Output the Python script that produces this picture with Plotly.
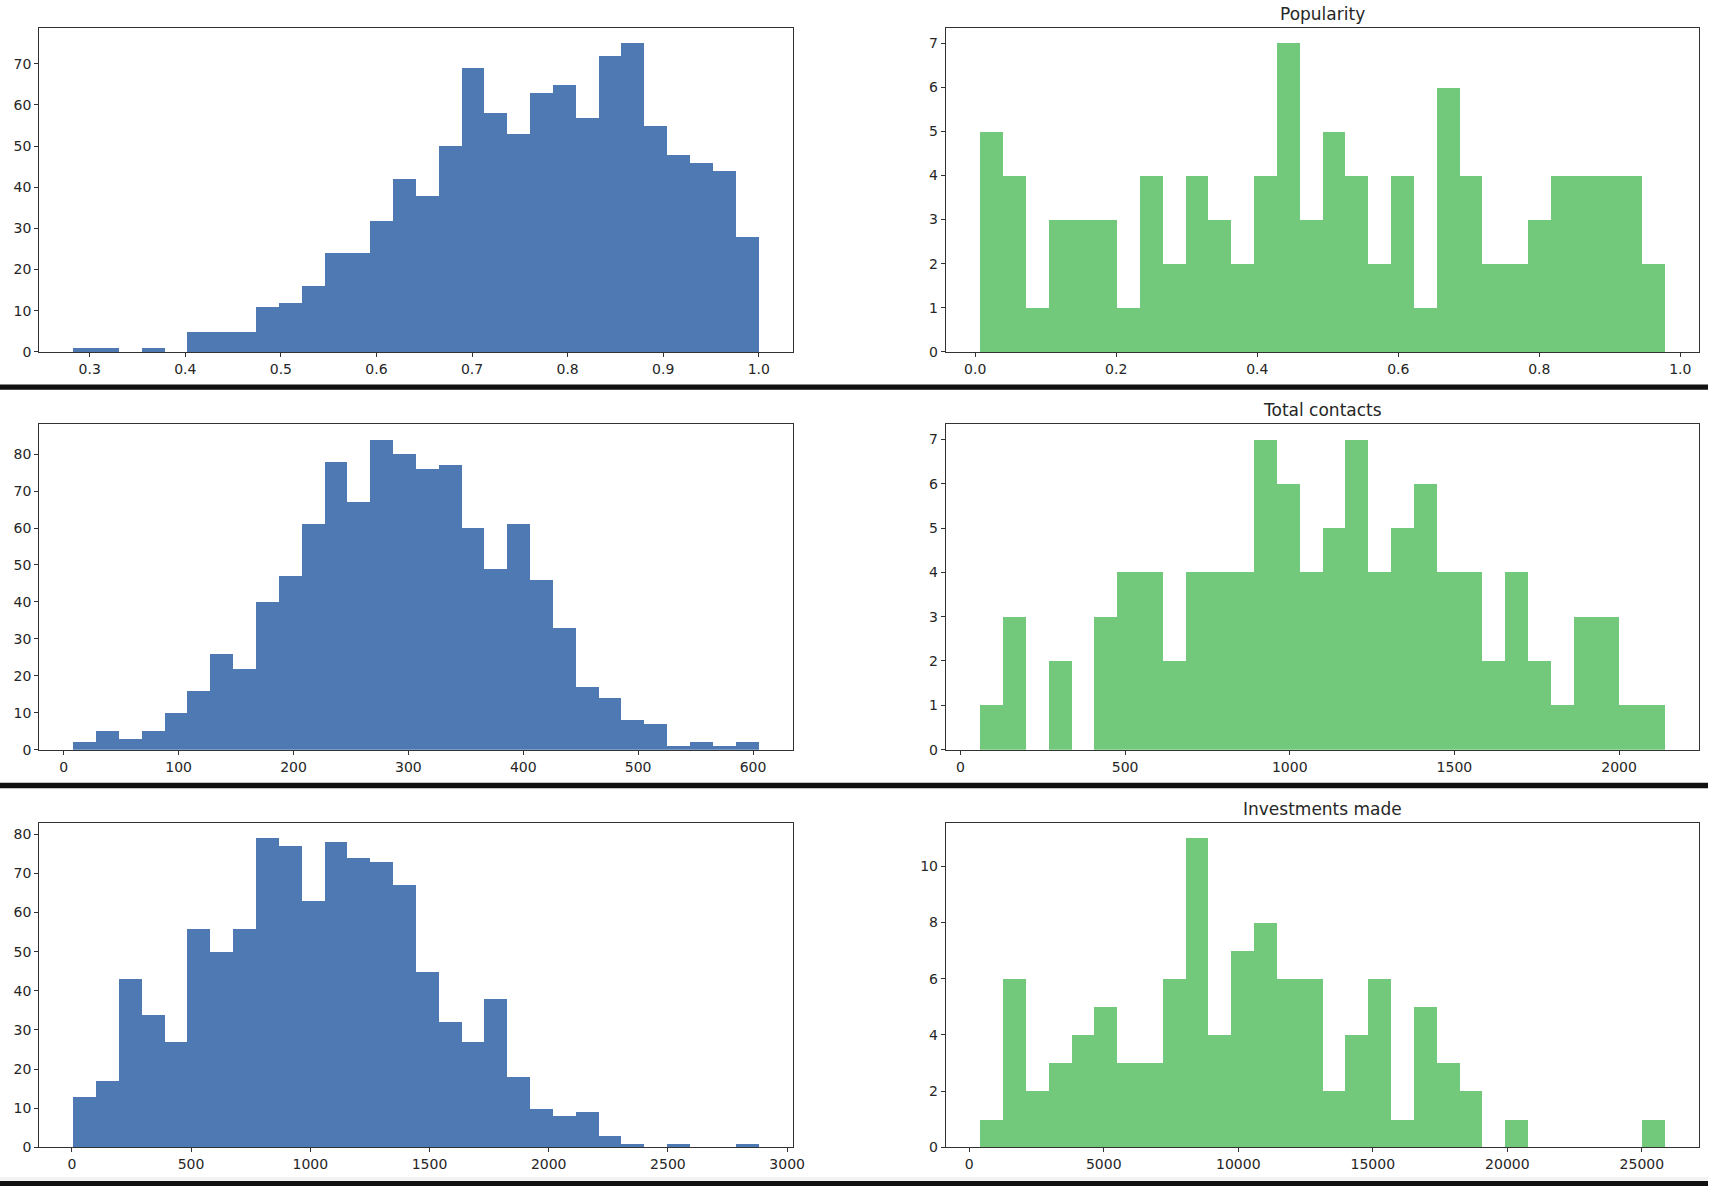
import numpy as np
import plotly.graph_objects as go

W, H = 1720, 1194

# ---------------- data ----------------
# left column (blue) histograms: bin range and counts (30 bins each)
row1_left_range = [0.283, 1.0]
row1_left_counts = [1, 1, 0, 1, 0, 5, 5, 5, 11, 12, 16, 24, 24, 32, 42, 38, 50, 69,
                    58, 53, 63, 65, 57, 72, 75, 55, 48, 46, 44, 28]

row2_left_range = [8.5, 605.0]
row2_left_counts = [2, 5, 3, 5, 10, 16, 26, 22, 40, 47, 61, 78, 67, 84, 80, 76, 77, 60,
                    49, 61, 46, 33, 17, 14, 8, 7, 1, 2, 1, 2]

row3_left_range = [6.8, 2881.0]
row3_left_counts = [13, 17, 43, 34, 27, 56, 50, 56, 79, 77, 63, 78, 74, 73, 67, 45, 32, 27,
                    38, 18, 10, 8, 9, 3, 1, 0, 1, 0, 0, 1]

# right column (green) histograms
popularity_range = [0.0069, 0.978]
popularity_counts = [5, 4, 1, 3, 3, 3, 1, 4, 2, 4, 3, 2, 4, 7, 3, 5, 4, 2, 4, 1,
                     6, 4, 2, 2, 3, 4, 4, 4, 4, 2]

contacts_range = [59.5, 2139.0]
contacts_counts = [1, 3, 0, 2, 0, 3, 4, 4, 2, 4, 4, 4, 7, 6, 4, 5, 7, 4, 5, 6,
                   4, 4, 2, 4, 2, 1, 3, 3, 1, 1]

investments_range = [404.0, 25853.0]
investments_counts = [1, 6, 2, 3, 4, 5, 3, 3, 6, 11, 4, 7, 8, 6, 6, 2, 4, 6, 1, 5,
                      3, 2, 0, 1, 0, 0, 0, 0, 0, 1]

titles = ["", "Popularity", "", "Total contacts", "", "Investments made"]

# tick settings per panel: (x tick0, x dtick, x format), y dtick
x_ticks = [(0.3, 0.1, ".1f"), (0.0, 0.2, ".1f"), (0, 100, "d"),
           (0, 500, "d"), (0, 500, "d"), (0, 5000, "d")]
y_dticks = [10, 1, 10, 1, 10, 2]

BLUE = "#4f79b3"
GREEN = "#72c97b"

panels = [
    (row1_left_range, row1_left_counts, BLUE),
    (popularity_range, popularity_counts, GREEN),
    (row2_left_range, row2_left_counts, BLUE),
    (contacts_range, contacts_counts, GREEN),
    (row3_left_range, row3_left_counts, BLUE),
    (investments_range, investments_counts, GREEN),
]

# ---------------- layout geometry (pixels) ----------------
col_x = [(39.5, 798.6), (952.5, 1711.0)]
row_y = [(27.8, 354.3), (426.7, 754.7), (828.2, 1155.1)]

def px_x(v):
    return v / W

def px_y(v):
    return 1 - v / H

fig = go.Figure()
layout = {}
annotations = []
FONT = "DejaVu Sans"
TXT = "#262626"

for i, (rng, counts, color) in enumerate(panels):
    r, c = divmod(i, 2)
    n = len(counts)
    edges = np.linspace(rng[0], rng[1], n + 1)
    centers = (edges[:-1] + edges[1:]) / 2
    width = edges[1] - edges[0]
    xa = "x" if i == 0 else f"x{i+1}"
    ya = "y" if i == 0 else f"y{i+1}"
    fig.add_trace(go.Bar(
        x=centers, y=counts, width=[width] * n,
        marker=dict(color=color, line=dict(width=0)),
        xaxis=xa, yaxis=ya, showlegend=False, hoverinfo="x+y",
    ))
    span = rng[1] - rng[0]
    xr = [rng[0] - 0.05 * span, rng[1] + 0.05 * span]
    yr = [0, max(counts) * 1.05]
    x0, x1 = col_x[c]
    y0, y1 = row_y[r]
    t0, dt, fmt = x_ticks[i]
    axis_common = dict(
        showline=True, linecolor="#333333", linewidth=1.2, mirror=True,
        ticks="outside", ticklen=4, tickwidth=1, tickcolor="#333333",
        showgrid=False, zeroline=False,
        tickfont=dict(family=FONT, size=14, color=TXT),
    )
    layout["xaxis" if i == 0 else f"xaxis{i+1}"] = dict(
        domain=[px_x(x0), px_x(x1)], anchor=ya, range=xr,
        tickmode="linear", tick0=t0, dtick=dt, tickformat=fmt, **axis_common)
    layout["yaxis" if i == 0 else f"yaxis{i+1}"] = dict(
        domain=[px_y(y1), px_y(y0)], anchor=xa, range=yr,
        tickmode="linear", tick0=0, dtick=y_dticks[i], **axis_common)
    if titles[i]:
        annotations.append(dict(
            text=titles[i], xref="paper", yref="paper",
            x=px_x((x0 + x1) / 2), y=px_y(y0 - 2), xanchor="center", yanchor="bottom",
            showarrow=False, font=dict(family=FONT, size=17, color=TXT)))

# separators between notebook output rows
shapes = []
for (a, b) in [(387.0, 392.5), (788.0, 793.5), (1189.0, 1194.0)]:
    shapes.append(dict(type="rect", xref="paper", yref="paper",
                       x0=0, x1=1, y0=px_y(b), y1=px_y(a),
                       fillcolor="#111111", line=dict(width=0), layer="above"))
shapes.append(dict(type="rect", xref="paper", yref="paper",
                   x0=0, x1=1, y0=px_y(1189), y1=px_y(1185),
                   fillcolor="#f3f3f3", line=dict(width=0), layer="below"))

fig.update_layout(
    width=W, height=H, margin=dict(l=0, r=0, t=0, b=0),
    paper_bgcolor="white", plot_bgcolor="white",
    bargap=0, annotations=annotations, shapes=shapes,
    font=dict(family=FONT, color=TXT),
    **layout,
)

fig.write_html(
    "out.html",
    config={"displayModeBar": False},
    post_script="document.body.style.margin='0';document.body.style.overflow='hidden';",
)
